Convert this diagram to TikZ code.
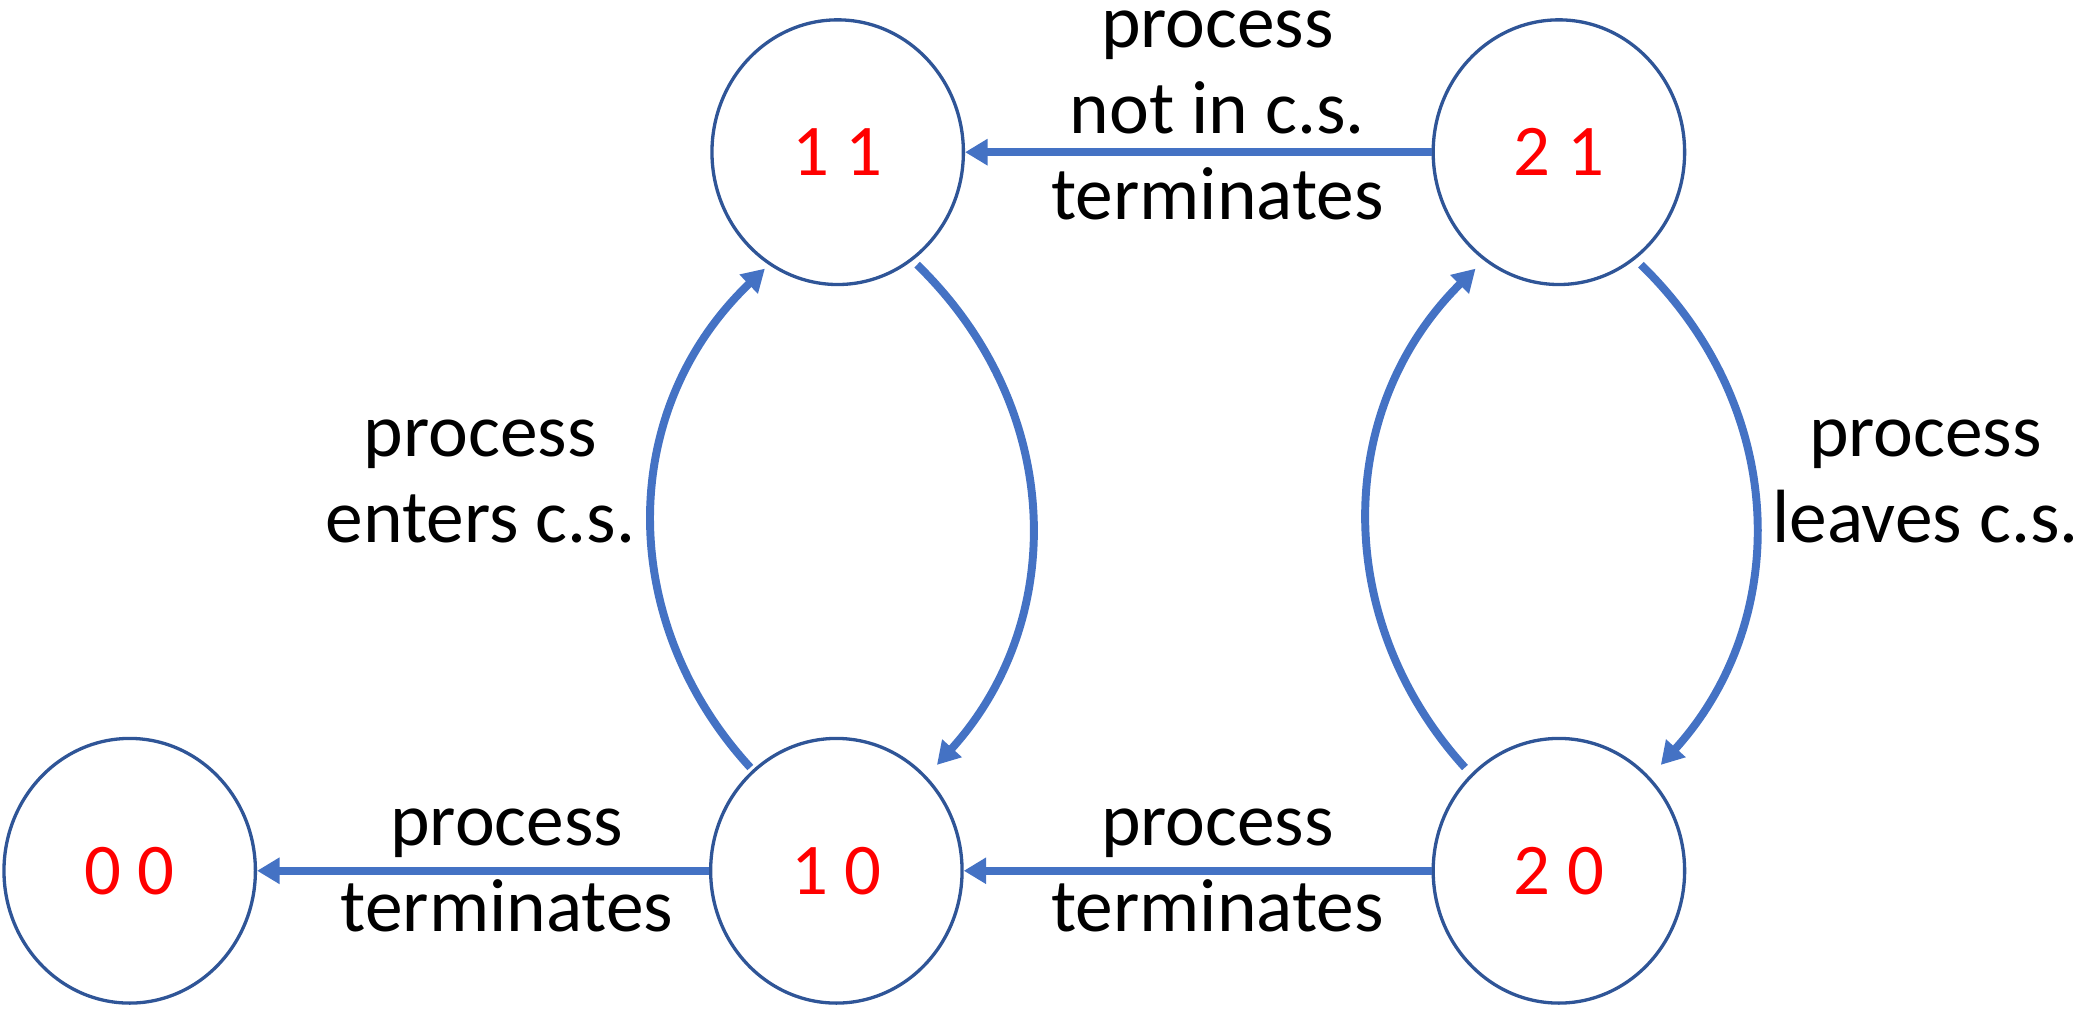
\documentclass[tikz,border=0pt]{standalone}
\usepackage{fontspec}
\setmainfont{Carlito}
\usetikzlibrary{shapes.geometric,arrows.meta}
\definecolor{ringblue}{HTML}{2F5597}
\definecolor{arrblue}{HTML}{4472C4}
\definecolor{statered}{HTML}{FF0000}
\tikzset{
  state/.style={ellipse, draw=ringblue, line width=2.5pt, minimum width=190pt, minimum height=200pt, inner sep=0pt,
    text=statered, font=\fontsize{55}{66}\selectfont},
  arr/.style={draw=arrblue, line width=6pt, -{Triangle[length=17pt,width=19pt]}},
  lbl/.style={align=center, font=\fontsize{57}{65}\selectfont, text=black, inner sep=0pt}
}
\begin{document}
\begin{tikzpicture}[x=1pt,y=-1pt]
\useasboundingbox (0,0) rectangle (1568,762);
\node[state] (n00) at (98,658) {0 0};
\node[state] (n10) at (632,658) {1 0};
\node[state] (n20) at (1178,658) {2 0};
\node[state] (n11) at (633,115) {1 1};
\node[state] (n21) at (1178,115) {2 1};

\draw[arr] (n10.west) -- (n00.east);
\draw[arr] (n20.west) -- (n10.east);
\draw[arr] (n21.west) -- (n11.east);

\coordinate (a1) at (693,200);
\coordinate (a2) at (708,578);
\draw[arr] (a1) .. controls (806,310) and (806,470) .. (a2);
\coordinate (b1) at (567,580);
\coordinate (b2) at (578,203);
\draw[arr] (b1) .. controls (466,470) and (466,310) .. (b2);
\coordinate (c1) at (1107,580);
\coordinate (c2) at (1115,203);
\draw[arr] (c1) .. controls (1007,470) and (1007,310) .. (c2);
\coordinate (d1) at (1240,200);
\coordinate (d2) at (1255,578);
\draw[arr] (d1) .. controls (1353,310) and (1353,470) .. (d2);

\node[lbl] (t1) at (383,658) {process\\terminates};
\node[lbl] (t2) at (920,658) {process\\terminates};
\node[lbl] (t3) at (920,87) {process\\not in c.s.\\terminates};
\node[lbl] (t4) at (363,364) {process\\enters c.s.};
\node[lbl] (t5) at (1455,364) {process\\leaves c.s.};
\end{tikzpicture}
\end{document}
